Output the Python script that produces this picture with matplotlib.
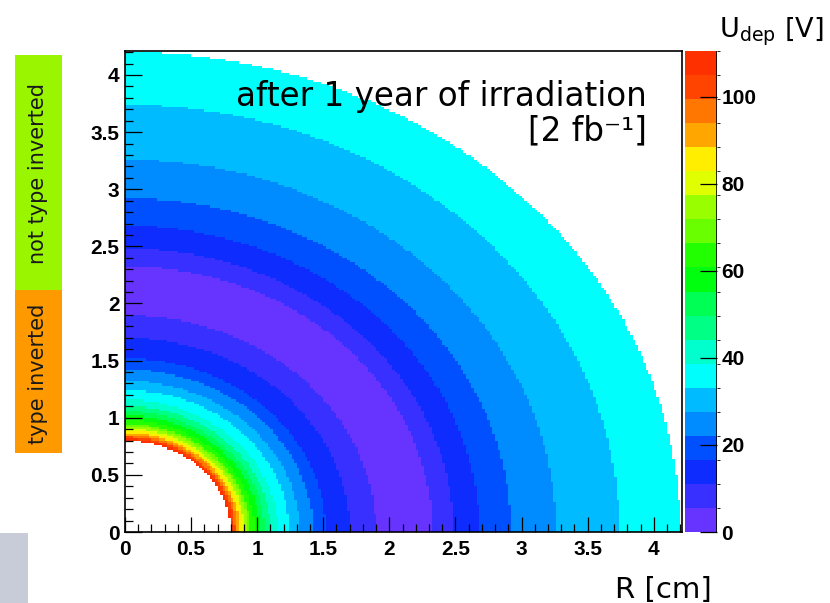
import numpy as np
import matplotlib
matplotlib.use("Agg")
import matplotlib.pyplot as plt
from matplotlib.colors import ListedColormap, BoundaryNorm
from matplotlib.patches import Rectangle
from matplotlib.ticker import MultipleLocator, FuncFormatter

# ring boundaries in radius [cm] and the depletion voltage inside each ring [V]
ring_edges = [0.800, 0.817, 0.832, 0.850, 0.867, 0.888, 0.905, 0.930, 0.948,
              0.981, 1.019, 1.057, 1.102, 1.158, 1.241, 1.322, 1.423, 1.519,
              1.700, 1.897, 2.326, 2.483, 2.680, 2.920, 3.260, 3.740, 4.200]
ring_udep = [108, 102, 97, 91, 86, 80, 75, 69, 64, 58, 52, 47, 41,
             36, 30, 25, 19, 14, 8, 3, 8, 14, 19, 25, 30, 36]

# histogram binning (cm) and z range of the palette (V)
bin_width = 0.02
r_max = 4.2
z_max = 110.5
n_levels = 20

# violet -> red palette, one colour per contour level
palette = ["#6633ff", "#3830ff", "#0f2cff", "#0050ff", "#008cff",
           "#00bbff", "#00fffc", "#00ffcc", "#00ff85", "#00ff55",
           "#00ff0e", "#22ff00", "#69ff00", "#99ff00", "#e0ff00",
           "#ffee00", "#ffa700", "#ff7700", "#ff4400", "#ff3000"]

W, H = 830, 603


def fx(x):
    return x / W


def fy(y):
    return 1 - y / H


edges = np.arange(0, r_max + bin_width / 2, bin_width)
centers = 0.5 * (edges[:-1] + edges[1:])
xc, yc = np.meshgrid(centers, centers)
rc = np.hypot(xc, yc)
idx = np.searchsorted(ring_edges, rc, side="right") - 1
inside = (idx >= 0) & (idx < len(ring_udep))
z = np.where(inside, np.array(ring_udep)[np.clip(idx, 0, len(ring_udep) - 1)], np.nan)
z = np.ma.masked_invalid(z)

cmap = ListedColormap(palette)
norm = BoundaryNorm(np.linspace(0, z_max, n_levels + 1), n_levels)

plt.rcParams["font.family"] = ["DejaVu Sans"]

fig = plt.figure(figsize=(W / 100, H / 100), dpi=100)
ax = fig.add_axes([fx(125), fy(532), fx(681.5) - fx(125), fy(51) - fy(532)])
cax = fig.add_axes([fx(685), fy(532), fx(717) - fx(685), fy(51) - fy(532)])

mesh = ax.pcolormesh(edges, edges, z, cmap=cmap, norm=norm)
ax.set_xlim(0, 4.21)
ax.set_ylim(0, 4.21)

fmt = FuncFormatter(lambda v, p: f"{v:g}")
for axis in (ax.xaxis, ax.yaxis):
    axis.set_major_locator(MultipleLocator(0.5))
    axis.set_minor_locator(MultipleLocator(0.1))
    axis.set_major_formatter(fmt)
ax.tick_params(axis="x", which="major", direction="in", length=10.8, width=0.9, pad=6)
ax.tick_params(axis="x", which="minor", direction="in", length=5.8, width=0.9)
ax.tick_params(axis="y", which="major", direction="in", length=12.5, width=0.9, pad=4)
ax.tick_params(axis="y", which="minor", direction="in", length=6, width=0.9)
for lab in ax.get_xticklabels() + ax.get_yticklabels():
    lab.set_fontfamily("Liberation Sans")
    lab.set_fontweight("bold")
    lab.set_fontsize(15)
for sp in ax.spines.values():
    sp.set_linewidth(1.2)

cb = fig.colorbar(mesh, cax=cax, ticks=[0, 20, 40, 60, 80, 100])
cb.outline.set_visible(False)
cax.tick_params(direction="in", length=12, width=0.9, pad=3)
cax.axvline(1, color="black", lw=1.2)
for lab in cax.get_yticklabels():
    lab.set_fontfamily("Liberation Sans")
    lab.set_fontweight("bold")
    lab.set_fontsize(15)

# annotations
fig.text(fx(647), fy(140), "after 1 year of irradiation\n[2 fb\u207b\u00b9]",
         ha="right", va="baseline", multialignment="right", fontsize=23.5,
         linespacing=1.04)
fig.text(fx(719), fy(37), r"U$_{\mathregular{dep}}$ [V]", ha="left",
         va="baseline", fontsize=19.5)
fig.text(fx(712), fy(598), "R [cm]", ha="right", va="baseline", fontsize=21)

# side boxes marking the inversion state
fig.add_artist(Rectangle((fx(15), fy(290)), fx(62) - fx(15), fy(55) - fy(290),
                         transform=fig.transFigure, color="#99f500", lw=0))
fig.add_artist(Rectangle((fx(15), fy(453)), fx(62) - fx(15), fy(290) - fy(453),
                         transform=fig.transFigure, color="#ff9900", lw=0))
fig.text(fx(38.5), fy(174), "not type inverted", rotation=90, ha="center",
         va="center", fontsize=15, color="#1a1a1a")
fig.text(fx(38.5), fy(374), "type inverted", rotation=90, ha="center",
         va="center", fontsize=15, color="#1a1a1a")
fig.add_artist(Rectangle((0, 0), fx(28), fy(533), transform=fig.transFigure,
                         color="#c8ccd8", lw=0))

fig.savefig("out.png", dpi=100)
